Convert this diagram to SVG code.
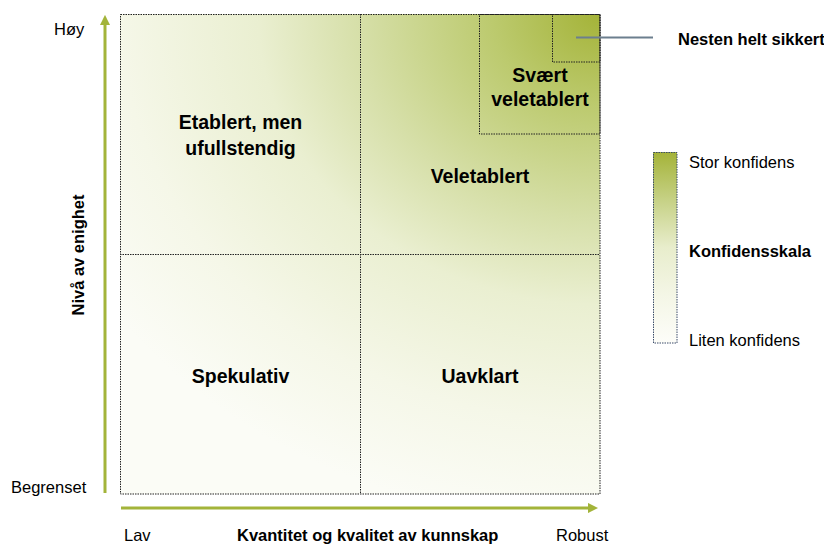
<svg xmlns="http://www.w3.org/2000/svg" width="824" height="545" viewBox="0 0 824 545">
<style>
text{font-family:"Liberation Sans",Arial,sans-serif;fill:#000}
.q{font-size:19.5px;font-weight:bold;text-anchor:middle}
.lab{font-size:16.5px}
.b{font-weight:bold}
.dot{fill:none;stroke:#222;stroke-width:1;stroke-dasharray:1.5 1}
.ax{stroke:#a3b43a;stroke-width:3;fill:none}
</style>
<defs>
<radialGradient id="bg" gradientUnits="userSpaceOnUse" cx="600" cy="14" r="600" gradientTransform="translate(600 14) scale(1 0.85) translate(-600 -14)">
<stop offset="0" stop-color="#a4b338"/>
<stop offset="0.18" stop-color="#bcca6e"/>
<stop offset="0.4" stop-color="#d6dfa8"/>
<stop offset="0.57" stop-color="#eaefd1"/>
<stop offset="0.8" stop-color="#f5f7e8"/>
<stop offset="1" stop-color="#fbfcf6"/>
</radialGradient>
<linearGradient id="leg" x1="0" y1="0" x2="0" y2="1">
<stop offset="0" stop-color="#a4b338"/>
<stop offset="0.25" stop-color="#c6d185"/>
<stop offset="0.5" stop-color="#e8edcc"/>
<stop offset="0.75" stop-color="#f4f6e6"/>
<stop offset="1" stop-color="#fdfdf9"/>
</linearGradient>
<marker id="ah" viewBox="0 0 10 10" refX="5" refY="5" markerWidth="3.4" markerHeight="3.4" orient="auto" markerUnits="strokeWidth">
<path d="M0,0 L10,5 L0,10 z" fill="#a3b43a"/>
</marker>
</defs>

<g id="matrix">
<rect x="120" y="14" width="480" height="480" fill="url(#bg)"/>
<rect class="dot" x="120.5" y="14.5" width="479.5" height="479.5"/>
<line class="dot" x1="360.5" y1="14" x2="360.5" y2="494"/>
<line class="dot" x1="120" y1="254.5" x2="600" y2="254.5"/>
</g>

<g id="q-etablert">
<text class="q" x="240.5" y="129">Etablert, men</text>
<text class="q" x="240.5" y="155">ufullstendig</text>
</g>
<g id="q-veletablert">
<text class="q" x="480" y="183">Veletablert</text>
</g>
<g id="q-svaert">
<rect class="dot" x="479.5" y="14.5" width="120.5" height="119.5"/>
<text class="q" x="540" y="82">Svært</text>
<text class="q" x="540" y="106">veletablert</text>
</g>
<g id="q-nesten">
<rect class="dot" x="552.5" y="14.5" width="47.5" height="47.5"/>
</g>
<g id="q-spekulativ">
<text class="q" x="240.5" y="383">Spekulativ</text>
</g>
<g id="q-uavklart">
<text class="q" x="480" y="383">Uavklart</text>
</g>

<g id="connectors">
<line x1="576" y1="37.5" x2="653" y2="37.5" stroke="#6c7f8e" stroke-width="2"/>
<line class="ax" x1="105" y1="493" x2="105" y2="20" marker-end="url(#ah)"/>
<line class="ax" x1="121" y1="508" x2="593" y2="508" marker-end="url(#ah)"/>
</g>

<g id="label-nesten">
<text class="lab b" x="678" y="45">Nesten helt sikkert</text>
</g>

<g id="legend">
<rect x="653" y="152" width="24" height="191" fill="url(#leg)"/>
<rect x="653.5" y="152.5" width="23.5" height="190.5" fill="none" stroke="#3c4d6b" stroke-width="1" stroke-dasharray="1.5 1"/>
<text class="lab" x="689" y="168">Stor konfidens</text>
<text class="lab b" x="689" y="257">Konfidensskala</text>
<text class="lab" x="689" y="346">Liten konfidens</text>
</g>

<g id="axis-labels">
<text class="lab" x="54" y="35">Høy</text>
<text class="lab" x="11" y="493">Begrenset</text>
<text class="lab" x="124" y="541">Lav</text>
<text class="lab b" x="237" y="541">Kvantitet og kvalitet av kunnskap</text>
<text class="lab" x="556" y="541">Robust</text>
<text class="lab b" x="84" y="255" text-anchor="middle" transform="rotate(-90 84 255)">Nivå av enighet</text>
</g>
</svg>
